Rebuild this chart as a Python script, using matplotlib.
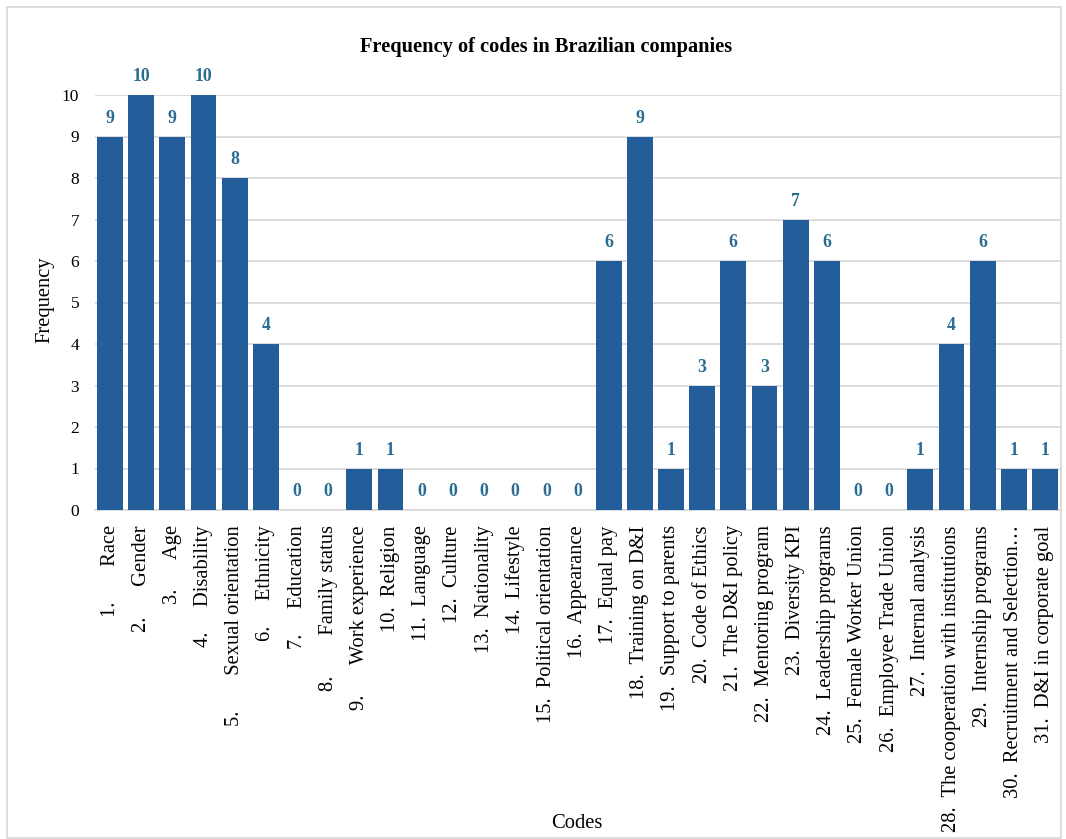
import matplotlib
matplotlib.use("Agg")
import matplotlib.pyplot as plt
from matplotlib.patches import Rectangle

# Frequency of each code across the companies
codes = [
    "Race", "Gender", "Age", "Disability", "Sexual orientation", "Ethnicity",
    "Education", "Family status", "Work experience", "Religion", "Language",
    "Culture", "Nationality", "Lifestyle", "Political orientation", "Appearance",
    "Equal pay", "Training on D&I", "Support to parents", "Code of Ethics",
    "The D&I policy", "Mentoring program", "Diversity KPI", "Leadership programs",
    "Female Worker Union", "Employee Trade Union", "Internal analysis",
    "The cooperation with institutions", "Internship programs",
    "Recruitment and Selection\u2026", "D&I in corporate goal",
]
frequency = [9, 10, 9, 10, 8, 4, 0, 0, 1, 1, 0, 0, 0, 0, 0, 0,
             6, 9, 1, 3, 6, 3, 7, 6, 0, 0, 1, 4, 6, 1, 1]
# gap (in spaces) between the list number and the code text
number_gap = [7, 6, 6, 5, 7, 5, 5, 8, 6] + [2] * 22

labels = [f"{i + 1}." + " " * g + name
          for i, (name, g) in enumerate(zip(codes, number_gap))]

plt.rcParams["font.family"] = ["Liberation Serif", "DejaVu Serif"]

BAR = "#235e9a"
VAL = "#2b6c92"
GRID = "#d9d9d9"

fig = plt.figure(figsize=(10.66, 8.39), dpi=100)
ax = fig.add_axes([94.5 / 1066, 1 - 510 / 839, (1060.5 - 94.5) / 1066, (510 - 95) / 839])

x = list(range(len(codes)))
bars = ax.bar(x, frequency, width=0.83, color=BAR, zorder=3)

for xi, v in zip(x, frequency):
    ax.text(xi, v + 0.44, str(v), ha="center", va="center", fontsize=12.8,
            fontweight="bold", color=VAL, clip_on=False)

ax.set_xlim(-0.5, len(codes) - 0.5)
ax.set_ylim(0, 10)
ax.set_yticks(range(0, 11))
ax.yaxis.grid(True, color=GRID, linewidth=1.3, zorder=0)
ax.set_axisbelow(True)

ax.set_xticks(x)
ax.set_xticklabels(labels, rotation=90, fontsize=14.8, ha="center", va="top")
ax.tick_params(axis="x", length=0, pad=11)
ax.tick_params(axis="y", length=0, pad=11, labelsize=12.5)

for side in ["top", "right", "left"]:
    ax.spines[side].set_visible(False)
ax.spines["bottom"].set_color(GRID)
ax.spines["bottom"].set_linewidth(1.3)

fig.text(546 / 1066, 1 - 47 / 839, "Frequency of codes in Brazilian companies",
         ha="center", va="center", fontsize=14.7, fontweight="bold")
fig.text(45 / 1066, 1 - 300 / 839, "Frequency", ha="center", va="center",
         rotation=90, fontsize=14.8)
fig.text(577 / 1066, 1 - 823 / 839, "Codes", ha="center", va="center",
         fontsize=14.8)

fig.patches.append(Rectangle((7 / 1066, 1 - 838 / 839), (1061 - 7) / 1066,
                             (838 - 7) / 839, transform=fig.transFigure,
                             fill=False, edgecolor=GRID, linewidth=1.3))

fig.savefig("out.png", dpi=100, facecolor="white")
